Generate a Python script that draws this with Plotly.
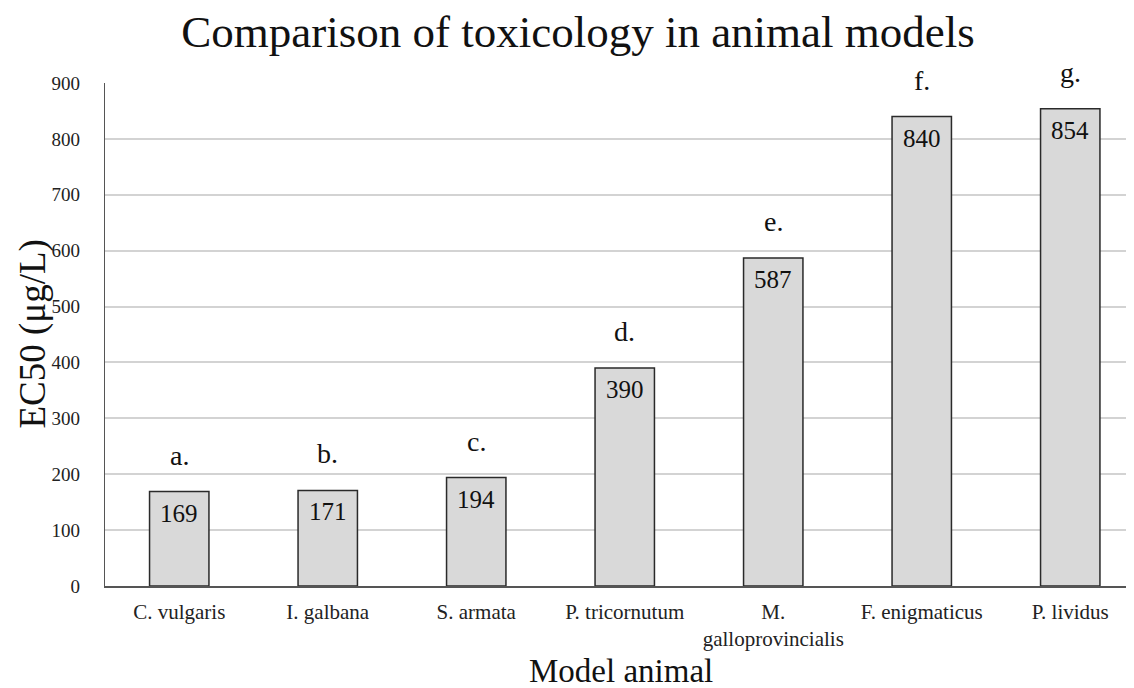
import plotly.graph_objects as go

categories = ["C. vulgaris", "I. galbana", "S. armata", "P. tricornutum",
              "M.<br>galloprovincialis", "F. enigmaticus", "P. lividus"]
values = [169, 171, 194, 390, 587, 840, 854]
letters = ["a.", "b.", "c.", "d.", "e.", "f.", "g."]
y_ticks = [0, 100, 200, 300, 400, 500, 600, 700, 800, 900]

FONT = "Liberation Serif, Times New Roman, serif"
# page body adds an 8px margin, so the figure is 8px smaller than the window
W, H = 1126, 680
L, R, T, B = 97, 0, 75, 102

fig = go.Figure()
fig.add_trace(go.Bar(
    x=list(range(len(categories))), y=values,
    marker=dict(color="#d9d9d9", line=dict(color="#2a2a2a", width=1.5)),
    width=0.4,
    hoverinfo="skip",
))

for i, (v, l) in enumerate(zip(values, letters)):
    fig.add_annotation(x=i, y=v, text=str(v), showarrow=False, yanchor="top",
                       yshift=-6, font=dict(family=FONT, size=25, color="#111111"))
    fig.add_annotation(x=i, y=v, text=l, showarrow=False, yanchor="bottom",
                       yshift=19, font=dict(family=FONT, size=28, color="#111111"))

pw = W - L - R
ph = H - T - B
# axis titles
fig.add_annotation(xref="paper", yref="paper", x=(613 - L) / pw, y=-(663 - (H - B)) / ph,
                   text="Model animal", showarrow=False, xanchor="center", yanchor="middle",
                   font=dict(family=FONT, size=33, color="#111111"))
fig.add_annotation(xref="paper", yref="paper", x=-(L - 24) / pw, y=0.5,
                   text="EC50 (μg/L)", textangle=-90, showarrow=False,
                   xanchor="center", yanchor="middle",
                   font=dict(family=FONT, size=37, color="#111111"))

fig.update_layout(
    width=W, height=H,
    margin=dict(l=L, r=R, t=T, b=B, autoexpand=False),
    paper_bgcolor="white", plot_bgcolor="white",
    showlegend=False,
    font=dict(family=FONT, color="#222222"),
    title=dict(text="Comparison of toxicology in animal models", x=570 / W, xanchor="center",
               y=1 - 23 / H, yanchor="middle", font=dict(family=FONT, size=45, color="#111111")),
)
fig.update_xaxes(
    range=[-0.5, -0.5 + pw / 148.5],
    tickvals=list(range(len(categories))), ticktext=categories,
    showline=True, linecolor="#555555", linewidth=1.5,
    showgrid=False, ticks="", automargin=False,
    ticklabelstandoff=6,
    tickfont=dict(family=FONT, size=21, color="#222222"),
)
fig.update_yaxes(
    range=[0, 900], tickvals=y_ticks,
    showline=True, linecolor="#555555", linewidth=1.2,
    showgrid=True, gridcolor="#d3d3d3", gridwidth=1.5,
    zeroline=False, ticks="", automargin=False,
    ticklabelstandoff=20,
    tickfont=dict(family=FONT, size=19, color="#222222"),
)

fig.write_html("out.html")
